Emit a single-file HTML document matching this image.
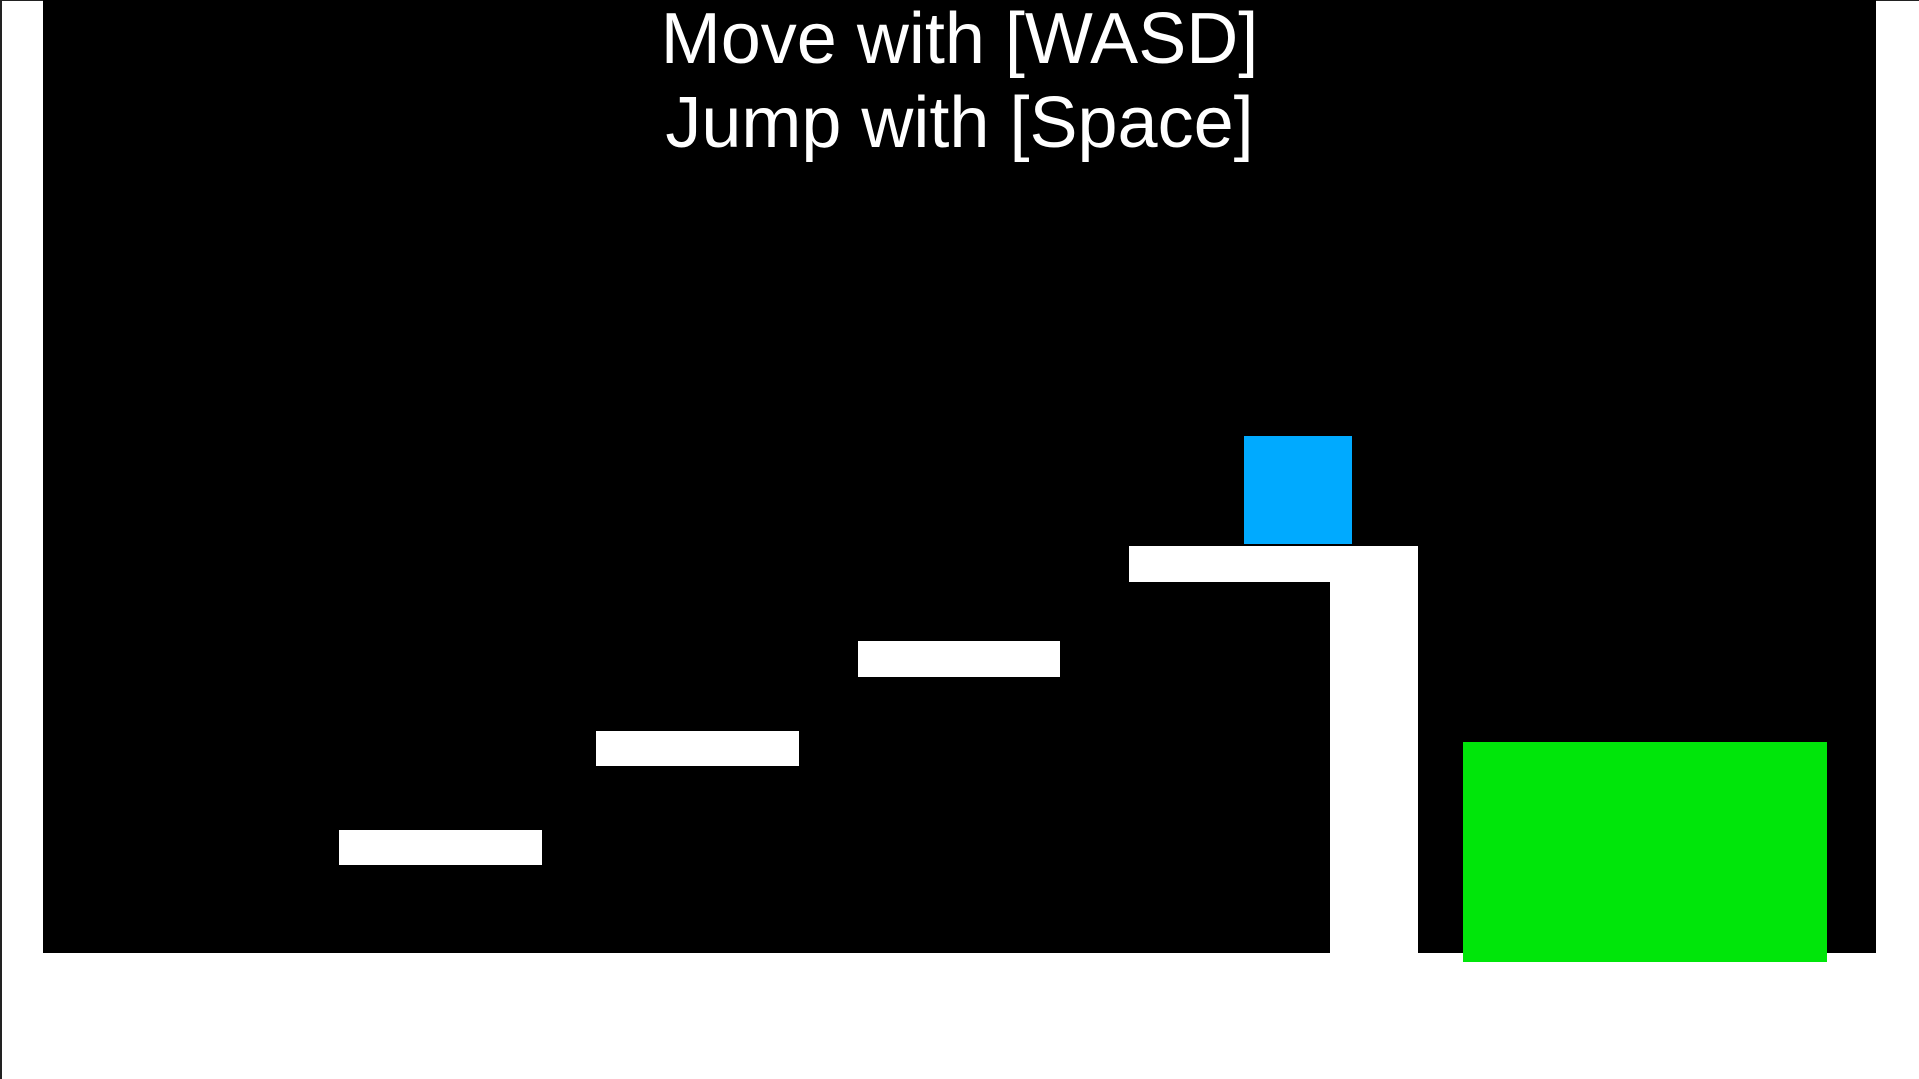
<!DOCTYPE html>
<html><head><style>
html,body{margin:0;padding:0;width:1919px;height:1079px;background:#fff;overflow:hidden;position:relative}
div{position:absolute}
.w{background:#fff}
</style></head><body>
<div style="left:0;top:0;width:2px;height:1079px;background:#222"></div>
<div style="left:0;top:0;width:1919px;height:1px;background:#222"></div>
<div style="left:43px;top:0;width:1833px;height:953px;background:#000"></div>
<div style="left:43px;top:-3px;width:1833px;text-align:center;color:#fff;font-family:'Liberation Sans',sans-serif;font-size:72px;line-height:84px">Move with [WASD]<br>Jump with [Space]</div>
<div class="w" style="left:339px;top:830px;width:203px;height:35px"></div>
<div class="w" style="left:596px;top:731px;width:203px;height:35px"></div>
<div class="w" style="left:858px;top:641px;width:202px;height:36px"></div>
<div class="w" style="left:1129px;top:546px;width:289px;height:36px"></div>
<div class="w" style="left:1330px;top:546px;width:88px;height:407px"></div>
<div style="left:1244px;top:436px;width:108px;height:108px;background:#00aaff"></div>
<div style="left:1463px;top:742px;width:364px;height:220px;background:#00e60a"></div>
</body></html>
